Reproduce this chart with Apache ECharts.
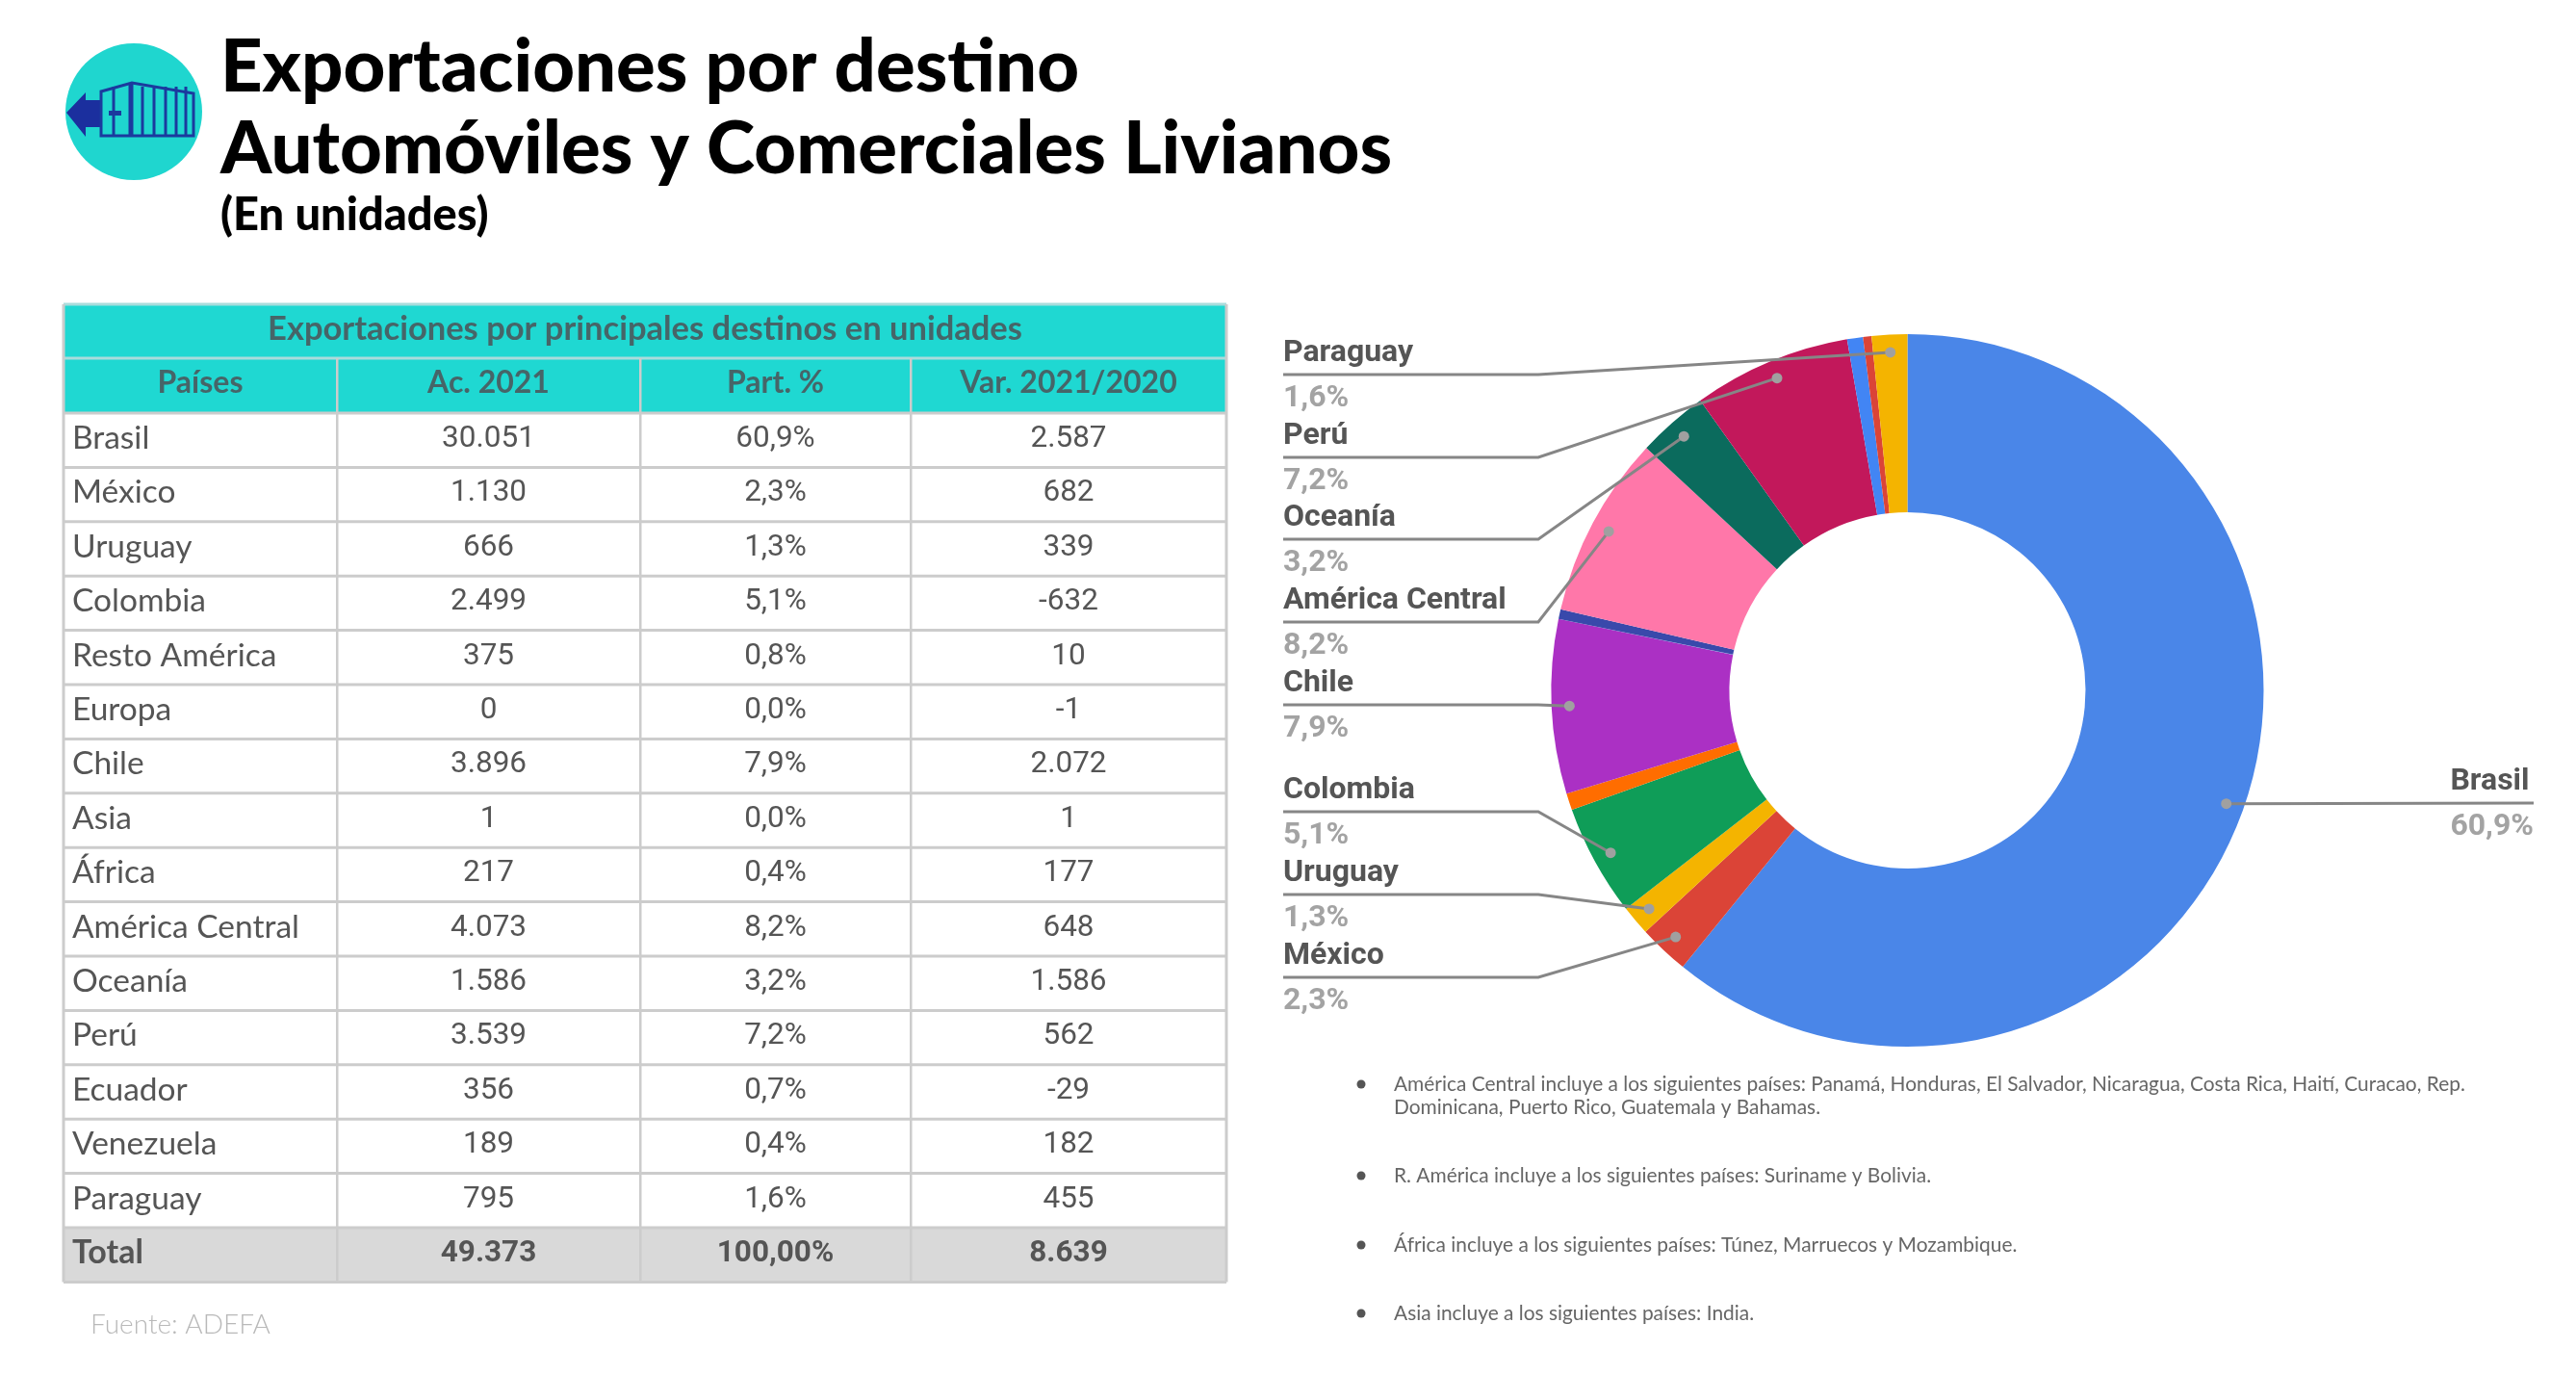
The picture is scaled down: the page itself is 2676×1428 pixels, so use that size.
<!DOCTYPE html>
<html>
<head>
<meta charset="utf-8">
<style>html,body{margin:0;padding:0;background:#fff}#c{width:2676px;height:1428px}</style>
<script src="https://cdn.jsdelivr.net/npm/echarts@6/dist/echarts.min.js"></script>
</head>
<body>
<div id="c"></div>
<script>
// ---- data ----
const paises = ['Brasil','México','Uruguay','Colombia','Resto América','Europa','Chile','Asia','África','América Central','Oceanía','Perú','Ecuador','Venezuela','Paraguay'];
const ac2021 = [30051,1130,666,2499,375,0,3896,1,217,4073,1586,3539,356,189,795];
const part = ['60,9%','2,3%','1,3%','5,1%','0,8%','0,0%','7,9%','0,0%','0,4%','8,2%','3,2%','7,2%','0,7%','0,4%','1,6%'];
const variacion = [2587,682,339,-632,10,-1,2072,1,177,648,1586,562,-29,182,455];
const totalRow = ['Total','49.373','100,00%','8.639'];
const headers = ['Países','Ac. 2021','Part. %','Var. 2021/2020'];
const tableTitle = 'Exportaciones por principales destinos en unidades';
const labelled = ['Brasil','México','Uruguay','Colombia','Chile','América Central','Oceanía','Perú','Paraguay'];
const notes = [
  ['América Central incluye a los siguientes países: Panamá, Honduras, El Salvador, Nicaragua, Costa Rica, Haití, Curacao, Rep.','Dominicana, Puerto Rico, Guatemala y Bahamas.'],
  ['R. América incluye a los siguientes países: Suriname y Bolivia.'],
  ['África incluye a los siguientes países: Túnez, Marruecos y Mozambique.'],
  ['Asia incluye a los siguientes países: India.']
];
// ---- styles / layout ----
const sliceColors = ['#4a86e8','#db4437','#f4b400','#0f9d58','#ff6d00','#46bdc6','#ab30c4','#7baaf7','#3949ab','#ff77a9','#0b6b5d','#c2185b','#4285f4','#db4437','#f4b400'];
const CX = 1981.5, CY = 717, R = 370, DOT = 0.95;
const leaderY = {'Paraguay':389,'Perú':475,'Oceanía':560,'América Central':646,'Chile':732,'Colombia':843,'Uruguay':929,'México':1015,'Brasil':834};
const SANS = 'Lato', NUM = 'Roboto';
const TXT = '#555555', HEAD = '#466568';
const colX = [66,350,665,946,1274];
const rowY0 = 429, rowH = 56.4;

const fmt = n => { const s = Math.abs(n).toString().replace(/\B(?=(\d{3})+$)/g,'.'); return (n<0?'-':'')+s; };
const total = ac2021.reduce((a,b)=>a+b,0);
let cum = 0;
const mids = ac2021.map(v => { const m = cum + v/2; cum += v; return m; });

const g = [];
function rect(x,y,w,h,fill){ g.push({type:'rect',shape:{x,y,width:w,height:h},style:{fill},silent:true}); }
function text(t,x,y,size,weight,fill,family,align){ g.push({type:'text',x,y,silent:true,z:5,style:{text:t,fontSize:size,fontWeight:weight,fontFamily:family,fill,align:align||'left',verticalAlign:'middle'}}); }

// icon
g.push({type:'circle',shape:{cx:139,cy:116,r:71},style:{fill:'#1fd6cf'},silent:true});
g.push({type:'polygon',shape:{points:[[69,117],[89,96],[89,104],[106,104],[106,132],[89,132],[89,142]]},style:{fill:'#1b2f9e'},silent:true});
g.push({type:'polygon',shape:{points:[[105,95],[137,86],[201,97],[201,141],[105,141]]},style:{fill:'none',stroke:'#1b3a9e',lineWidth:3},silent:true});
[118,148,160,172,183,193].forEach(x=>g.push({type:'line',shape:{x1:x,y1:90,x2:x,y2:141},style:{stroke:'#1b3a9e',lineWidth:3},silent:true}));
g.push({type:'line',shape:{x1:136,y1:86,x2:136,y2:141},style:{stroke:'#1b3a9e',lineWidth:5},silent:true});
g.push({type:'line',shape:{x1:113,y1:117.5,x2:126,y2:117.5},style:{stroke:'#1b3a9e',lineWidth:5},silent:true});

// titles
text('Exportaciones por destino',229,70,76,900,'#000',SANS);
text('Automóviles y Comerciales Livianos',229,155,76,900,'#000',SANS);
text('(En unidades)',229,224,47,900,'#000',SANS);

// table
const bodyBottom = rowY0 + rowH*15;
const tableBottom = bodyBottom + rowH;
rect(colX[0],316,colX[4]-colX[0],rowY0-316,'#1fd8d2');
rect(colX[0],bodyBottom,colX[4]-colX[0],rowH,'#d9d9d9');
const bc = '#cccccc';
[316,372].forEach(y=>rect(colX[0],y-1.5,colX[4]-colX[0],3,'#a9dcdc'));
rect(colX[0],rowY0-1.5,colX[4]-colX[0],3,bc);
for(let i=1;i<=16;i++) rect(colX[0],rowY0+i*rowH-1.5,colX[4]-colX[0],3,bc);
[0,4].forEach(i=>rect(colX[i]-1.5,316,3,tableBottom-316,bc));
[1,2,3].forEach(i=>rect(colX[i]-1,372,2.5,tableBottom-372,bc));
const colMid = [0,1,2,3].map(i=>(colX[i]+colX[i+1])/2);
text(tableTitle,(colX[0]+colX[4])/2,342,34.5,700,HEAD,SANS,'center');
headers.forEach((h,i)=>text(h,colMid[i],398,32,700,HEAD,SANS,'center'));
paises.forEach((p,r)=>{
  const y = rowY0 + rowH*(r+0.5) - 2;
  text(p,75,y,33.5,400,TXT,SANS);
  text(fmt(ac2021[r]),colMid[1],y+1,31.5,400,TXT,NUM,'center');
  text(part[r],colMid[2],y+1,31.5,400,TXT,NUM,'center');
  text(fmt(variacion[r]),colMid[3],y+1,31.5,400,TXT,NUM,'center');
});
{
  const y = bodyBottom + rowH/2 - 2;
  text(totalRow[0],75,y,34,700,TXT,SANS);
  [1,2,3].forEach(i=>text(totalRow[i],colMid[i],y+1,31.5,700,TXT,NUM,'center'));
}
text('Fuente: ADEFA',94,1376,28,300,'#b9b9b9',SANS);

// notes
const noteY = [1126,1221,1293,1364];
notes.forEach((lines,i)=>{
  g.push({type:'circle',shape:{cx:1414,cy:noteY[i],r:4.5},style:{fill:'#555'},silent:true});
  lines.forEach((l,j)=>text(l,1448,noteY[i]+j*24,20.9,400,'#666666',SANS));
});

// pie
const pieData = paises.map((name,i)=>({
  name, value:ac2021[i], itemStyle:{color:sliceColors[i]},
  label:{show:labelled.includes(name), formatter:'{n|'+name+'}\n{p|'+part[i]+'}'}
}));
const leaderData = paises.map((n,i)=>labelled.includes(n)?[DOT,mids[i],i]:null).filter(Boolean);

const chart = echarts.init(document.getElementById('c'),null,{width:2676,height:1428,devicePixelRatio:1});
chart.setOption({
  animation:false,
  backgroundColor:'#ffffff',
  polar:{center:[CX,CY],radius:R},
  angleAxis:{type:'value',min:0,max:total,startAngle:90,show:false,splitLine:{show:false}},
  radiusAxis:{type:'value',min:0,max:1,show:false,splitLine:{show:false}},
  graphic:{elements:g},
  series:[
    {type:'pie',center:[CX,CY],radius:[R/2,R],startAngle:90,avoidLabelOverlap:false,silent:true,
     data:pieData,
     label:{position:'outer',alignTo:'none',rich:{
       n:{fontFamily:NUM,fontWeight:700,fontSize:32,color:'#555555',lineHeight:47,align:'left'},
       p:{fontFamily:NUM,fontWeight:700,fontSize:32,color:'#a3a3a3',lineHeight:47,align:'left'}}},
     labelLine:{show:false},
     labelLayout:function(params){
       const name = paises[params.dataIndex];
       const y = leaderY[name];
       if(y===undefined) return {};
       return name==='Brasil'
         ? {x:2632,y:y+1,align:'right',verticalAlign:'middle'}
         : {x:1333,y:y+1,align:'left',verticalAlign:'middle'};
     }
    },
    {type:'custom',coordinateSystem:'polar',silent:true,z:5,clip:false,
     data:leaderData,
     encode:{radius:0,angle:1},
     renderItem:function(params,api){
       const name = paises[api.value(2)];
       const y = leaderY[name];
       const d = api.coord([api.value(0),api.value(1)]);
       const pts = name==='Brasil'
         ? [[d[0],d[1]],[2632,y]]
         : [[d[0],d[1]],[1598,y],[1333,y]];
       return {type:'polyline',shape:{points:pts},style:{fill:'none',stroke:'#868686',lineWidth:3}};
     }},
    {type:'scatter',coordinateSystem:'polar',silent:true,z:6,symbolSize:11,
     itemStyle:{color:'#a0a0a0',opacity:1},
     data:leaderData.map(d=>[d[0],d[1]])}
  ]
});
</script>
</body>
</html>
